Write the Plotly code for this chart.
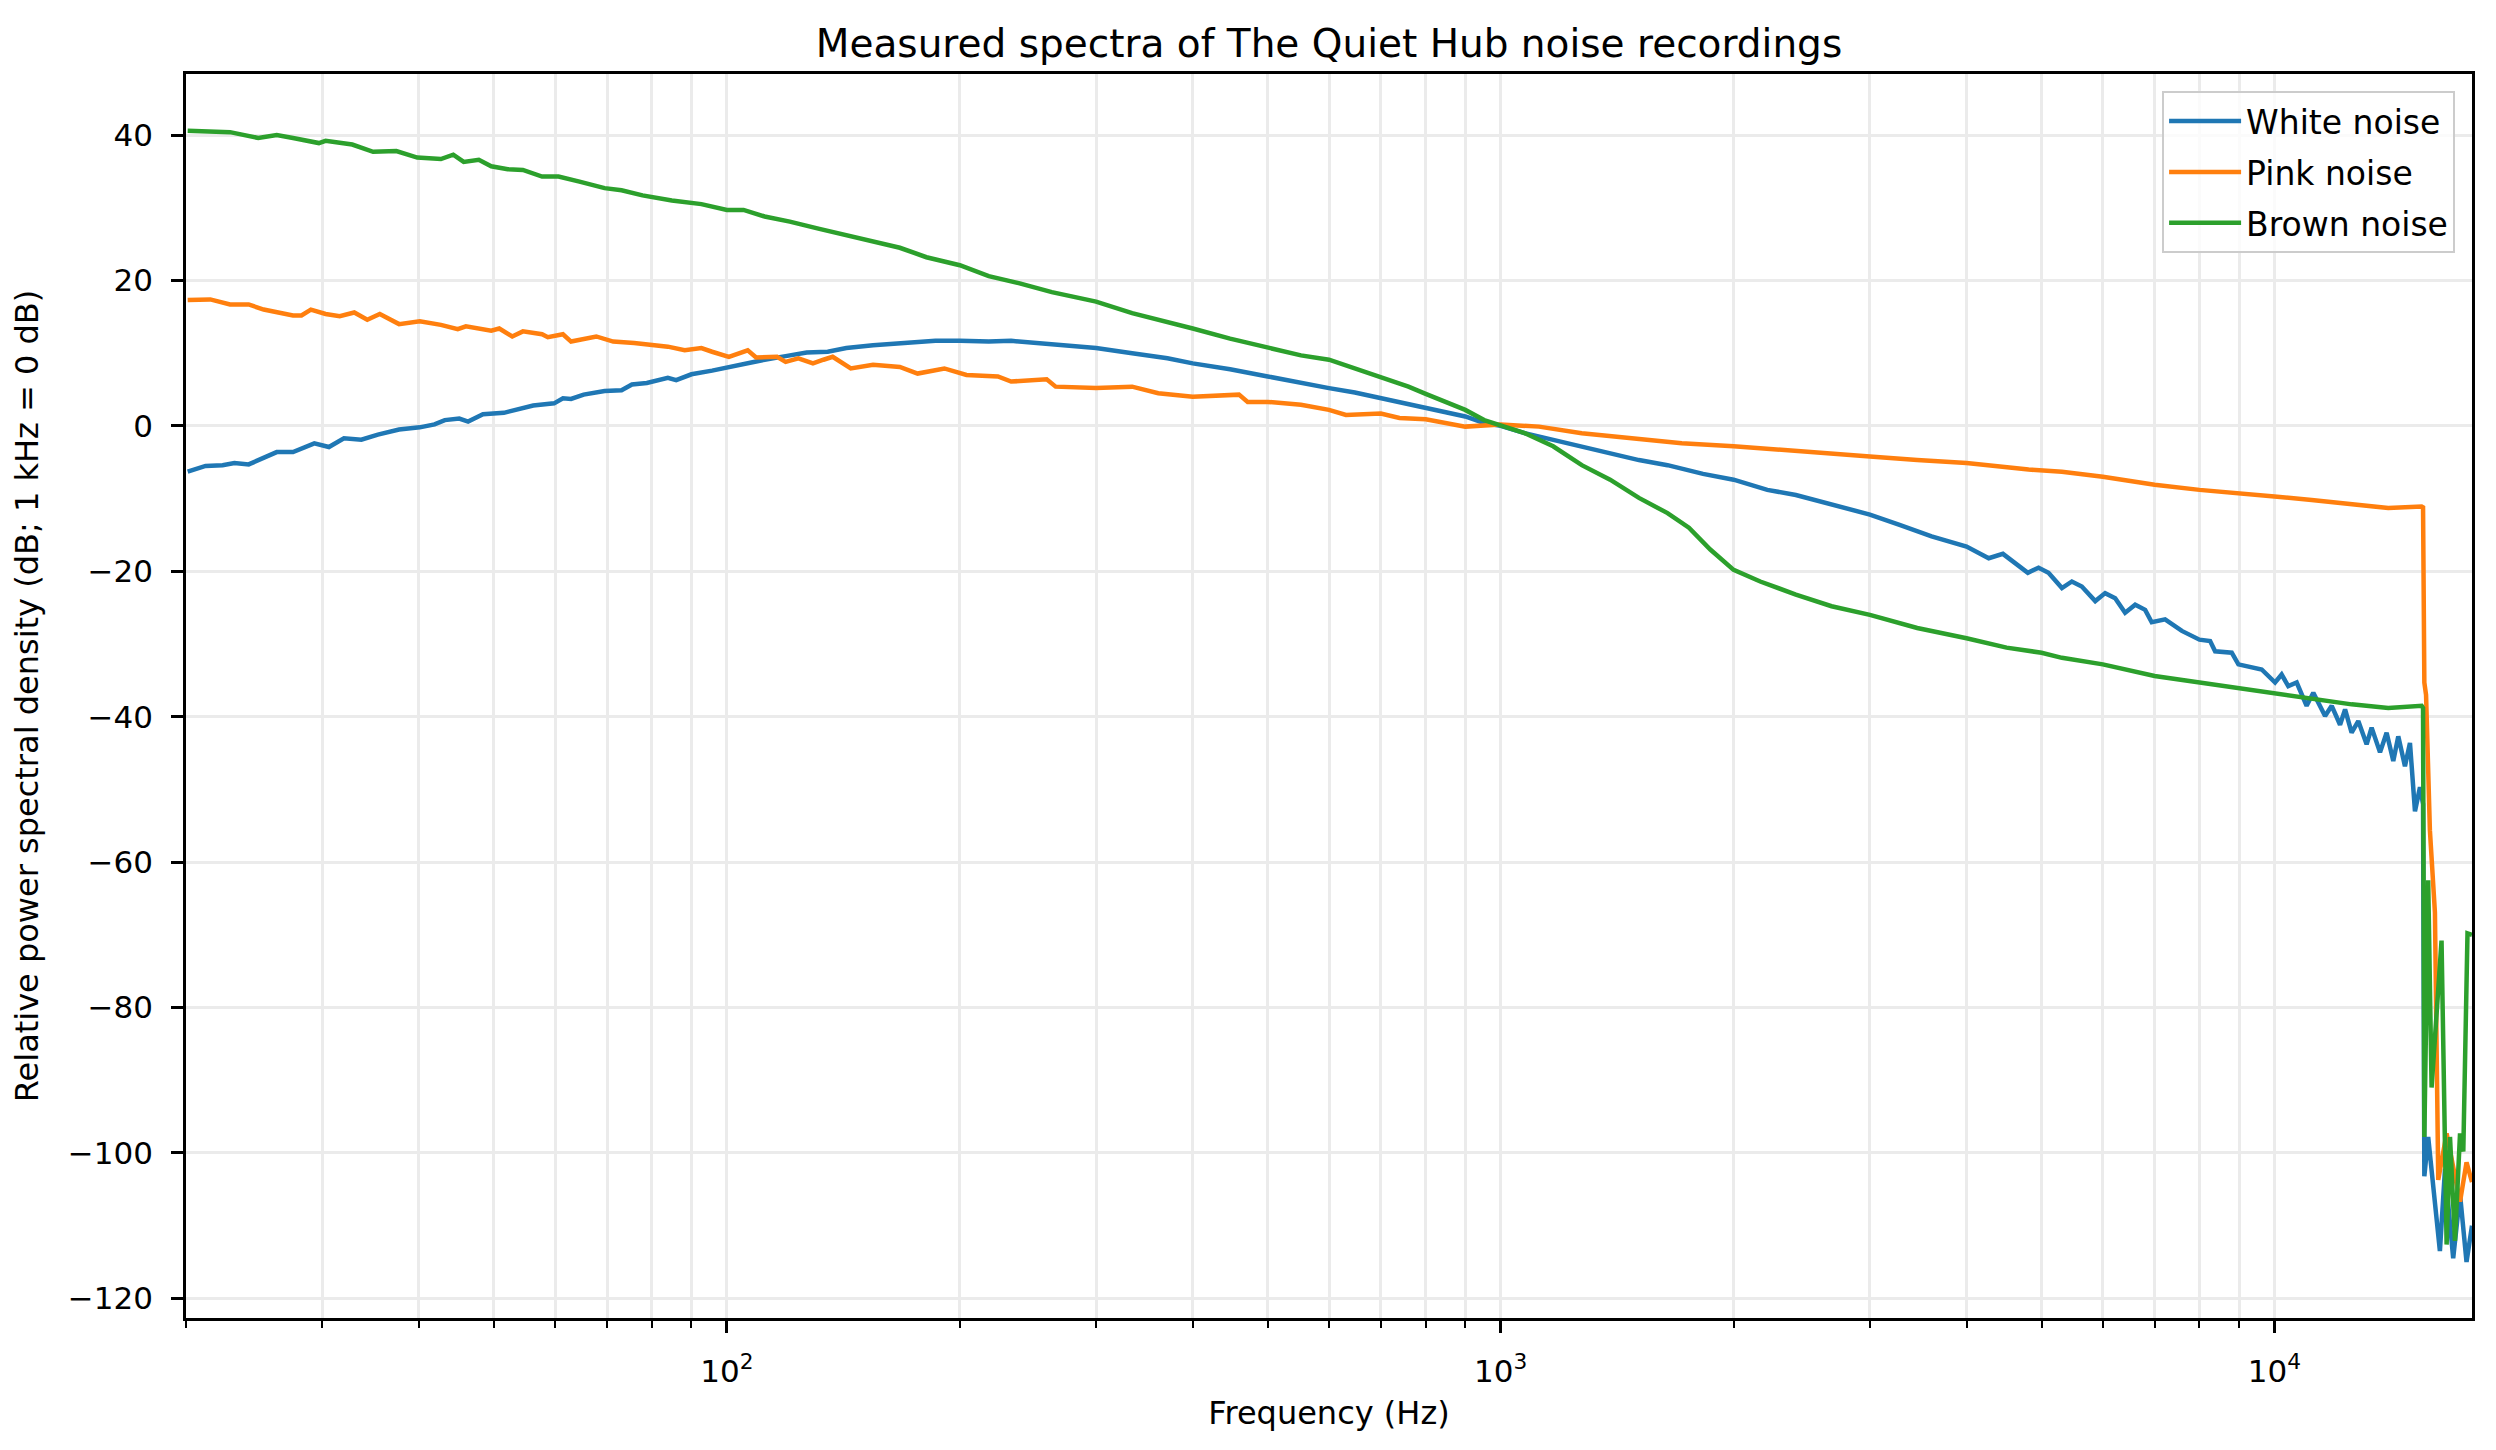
import plotly.graph_objects as go

# values (frequency in Hz, level in dB re 1 kHz)
WHITE_F = [20.1, 21.2, 22.3, 23.1, 24.1, 25.2, 26.2, 27.5, 29.3, 30.6, 32.0, 33.7, 35.4, 37.7,
           40.1, 41.9, 43.2, 45.1, 46.3, 48.4, 51.5, 56.2, 59.8, 61.4, 62.9, 65.3, 69.5, 73.1,
           75.4, 78.8, 81.8, 83.9, 86.0, 90, 95.7, 100.6, 106.4, 111.9, 119.1, 126.8, 135,
           142.7, 154.5, 167.3, 186, 200, 218, 233, 256, 277, 300, 334, 371, 400, 447, 500,
           552, 600, 648, 700, 760, 800, 845, 900, 952, 1000, 1074, 1169, 1273, 1385, 1509,
           1643, 1826, 2000, 2211, 2407, 2677, 3000, 3277, 3605, 4000, 4273, 4457, 4801, 4956,
           5105, 5313, 5472, 5637, 5867, 6042, 6225, 6412, 6607, 6806, 6940, 7222, 7591, 8000,
           8257, 8381, 8806, 8982, 9627, 10018, 10216, 10420, 10684, 11004, 11225, 11625,
           11857, 12155, 12338, 12580, 12833, 13155, 13352, 13690, 13961, 14241, 14454, 14744,
           14966, 15191, 15418, 15560, 15620, 15800, 16120, 16360, 16610, 17020, 17370, 17710,
           18000]
WHITE_DB = [-6.3, -5.5, -5.4, -5.1, -5.3, -4.4, -3.6, -3.6, -2.4, -2.9, -1.7, -1.9, -1.2, -0.5,
            -0.2, 0.2, 0.8, 1.0, 0.6, 1.6, 1.8, 2.8, 3.1, 3.8, 3.7, 4.3, 4.8, 4.9,
            5.7, 5.9, 6.3, 6.6, 6.3, 7.1, 7.6, 8.1, 8.6, 9.1, 9.6, 10.1, 10.2,
            10.7, 11.1, 11.4, 11.7, 11.7, 11.6, 11.7, 11.3, 10.9, 10.7, 10.0, 9.3, 8.6, 7.8, 6.8,
            5.9, 5.2, 4.6, 3.8, 3.0, 2.4, 1.8, 1.3, 0.4, 0.0, -1.0, -1.9, -2.8, -3.8, -4.7,
            -5.4, -6.6, -7.4, -8.8, -9.5, -10.8, -12.2, -13.6, -15.2, -16.6, -18.2, -17.6, -20.2, -19.5,
            -20.2, -22.3, -21.4, -22.1, -24.1, -23.0, -23.7, -25.7, -24.6, -25.3, -27.0, -26.6, -28.2, -29.4,
            -29.6, -31.0, -31.2, -32.8, -33.5, -35.3, -34.2, -35.8, -35.3, -38.5, -36.7, -39.9,
            -38.5, -41.1, -39.0, -42.2, -40.6, -43.8, -41.5, -44.9, -42.2, -46.1, -42.7, -46.8,
            -43.6, -53.0, -49.7, -52.0, -103.2, -97.8, -107.2, -113.5, -102.2, -114.5, -105.7, -115.0,
            -110.0]

PINK_F = [20.1, 21.5, 22.8, 24.1, 25.2, 27.5, 28.2, 29.0, 30.3, 31.6, 33.0, 34.3, 35.6, 37.7,
          40.1, 42.7, 44.9, 46.0, 49.6, 50.8, 52.8, 54.5, 57.7, 58.7, 61.4, 62.9, 67.8, 71.3,
          75.9, 79.8, 83.9, 88.2, 92.7, 95.7, 100.6, 106.4, 109.1, 116.1, 119.1, 123.7, 129.2,
          133.3, 137, 144.6, 154.5, 167.3, 176.4, 191, 204, 224, 233, 259, 266, 300, 334, 361,
          400, 459, 471, 500, 552, 600, 631, 700, 740, 800, 900, 1000, 1121, 1273, 1477, 1714,
          2000, 2407, 3000, 3454, 4000, 4811, 5313, 6000, 6476, 7000, 8000, 9000, 10000, 11170,
          12580, 14030, 15495, 15560, 15620, 15700, 15880, 16120, 16280, 16690, 17370, 17710, 18000]
PINK_DB = [17.3, 17.4, 16.7, 16.7, 16.0, 15.2, 15.2, 16.0, 15.4, 15.1, 15.6, 14.6, 15.4, 14.0,
           14.4, 13.9, 13.3, 13.7, 13.1, 13.4, 12.3, 13.0, 12.6, 12.2, 12.6, 11.6, 12.3, 11.6,
           11.4, 11.1, 10.9, 10.4, 10.7, 10.2, 9.5, 10.4, 9.4, 9.5, 8.8, 9.3, 8.6,
           9.1, 9.5, 7.9, 8.4, 8.1, 7.2, 7.9, 7.0, 6.8, 6.1, 6.4, 5.4, 5.2, 5.4, 4.5,
           4.0, 4.3, 3.3, 3.3, 2.9, 2.2, 1.5, 1.7, 1.1, 0.9, -0.1, 0.2, -0.1, -1.0, -1.7, -2.4,
           -2.8, -3.5, -4.2, -4.7, -5.1, -6.0, -6.3, -7.0, -7.6, -8.1, -8.8, -9.2, -9.7, -10.2,
           -10.8, -11.3, -11.1, -11.2, -35.3, -37.0, -55.6, -66.9, -103.7, -97.3, -106.7, -101.3, -104.0]

BROWN_F = [20.1, 22.8, 24.8, 26.2, 27.5, 29.7, 30.3, 32.8, 34.9, 37.4, 39.8, 42.7, 44.3, 45.7,
           47.8, 49.6, 52.1, 54.5, 57.7, 60.6, 64.5, 69.5, 73.1, 77.8, 84.9, 92.7, 100, 105.1,
           111.9, 120.6, 131.7, 142.7, 154.5, 167.3, 181.1, 200, 218, 239, 263, 300, 334, 371,
           400, 447, 500, 552, 600, 648, 700, 760, 800, 845, 900, 952, 1000, 1074, 1169, 1273,
           1385, 1509, 1643, 1751, 1866, 2000, 2165, 2407, 2677, 3000, 3454, 4000, 4506, 5000,
           5313, 6000, 7000, 8000, 9000, 10000, 11170, 12580, 14030, 15495, 15560, 15620, 15800,
           15960, 16440, 16690, 16860, 17110, 17370, 17540, 17760, 18000]
BROWN_DB = [40.6, 40.4, 39.6, 40.0, 39.6, 38.9, 39.2, 38.7, 37.7, 37.8, 36.9, 36.7, 37.3, 36.3,
            36.6, 35.7, 35.3, 35.2, 34.3, 34.3, 33.6, 32.7, 32.4, 31.7, 31.0, 30.5, 29.7, 29.7,
            28.8, 28.1, 27.1, 26.2, 25.3, 24.5, 23.2, 22.1, 20.6, 19.6, 18.4, 17.1, 15.5, 14.3,
            13.4, 12.0, 10.7, 9.7, 9.1, 7.9, 6.8, 5.4, 4.4, 3.3, 2.2, 0.8, 0.0, -1.0, -2.8, -5.4,
            -7.4, -9.9, -12.0, -14.0, -17.0, -19.8, -21.4, -23.2, -24.8, -26.0, -27.8, -29.2, -30.5, -31.2,
            -31.9, -32.8, -34.4, -35.3, -36.2, -36.9, -37.6, -38.3, -38.8, -38.5, -38.8, -97.8, -62.5,
            -91.0, -70.8, -112.6, -97.8, -112.1, -97.3, -99.8, -69.8, -70.0]

SERIES = [('White noise', WHITE_F, WHITE_DB, '#1f77b4'),
          ('Pink noise', PINK_F, PINK_DB, '#ff7f0e'),
          ('Brown noise', BROWN_F, BROWN_DB, '#2ca02c')]

X_TICKS = [100, 1000, 10000]
X_TICKTEXT = ['10<sup>2</sup>', '10<sup>3</sup>', '10<sup>4</sup>']
X_MINOR = [20, 30, 40, 50, 60, 70, 80, 90, 200, 300, 400, 500, 600, 700, 800, 900,
           2000, 3000, 4000, 5000, 6000, 7000, 8000, 9000]

FONT = 'DejaVu Sans'
GRID = '#ebebeb'

# page body has an 8px margin, so the figure is 16px smaller than the window
W, H = 2480, 1434

fig = go.Figure()
for name, f, db, color in SERIES:
    fig.add_trace(go.Scatter(x=f, y=db, mode='lines', name=name, legendgroup=name,
                             line=dict(color=color, width=4.5)))

fig.update_layout(
    width=W, height=H,
    margin=dict(l=178, r=16, t=66, b=124),
    paper_bgcolor='white', plot_bgcolor='white',
    font=dict(family=FONT, size=32, color='black'),
    title=dict(text='Measured spectra of The Quiet Hub noise recordings',
               x=0.5, xref='paper', y=1 - 35 / H, yref='container', yanchor='middle',
               font=dict(size=39, color='black')),
    legend=dict(x=0.9926, y=0.9863, xanchor='right', yanchor='top',
                bgcolor='rgba(255,255,255,0.8)', bordercolor='#cccccc', borderwidth=2,
                font=dict(size=33), itemwidth=72, tracegroupgap=5),
    showlegend=True,
)

fig.update_xaxes(type='log', range=[1.30103, 4.25527], automargin=False,
                 tickvals=X_TICKS, ticktext=X_TICKTEXT,
                 ticks='outside', ticklen=12, tickwidth=2.7, tickcolor='black',
                 tickfont=dict(size=31), ticklabelstandoff=12,
                 showline=True, mirror=True, linecolor='black', linewidth=2.7,
                 showgrid=True, gridcolor=GRID, gridwidth=2.7, zeroline=False,
                 minor=dict(tickvals=X_MINOR, ticks='outside', ticklen=7, tickwidth=2,
                            tickcolor='black', showgrid=True, gridcolor=GRID, gridwidth=2.7),
                 title=dict(text='Frequency (Hz)', font=dict(size=32), standoff=14))

fig.update_yaxes(range=[-122.7, 48.4], tick0=0, dtick=20, automargin=False,
                 ticks='outside', ticklen=12, tickwidth=2.7, tickcolor='black',
                 tickfont=dict(size=31), ticklabelstandoff=12,
                 showline=True, mirror=True, linecolor='black', linewidth=2.7,
                 showgrid=True, gridcolor=GRID, gridwidth=2.7, zeroline=False,
                 title=dict(text='Relative power spectral density (dB; 1 kHz = 0 dB)',
                            font=dict(size=32), standoff=20))

fig.write_html('out.html')
